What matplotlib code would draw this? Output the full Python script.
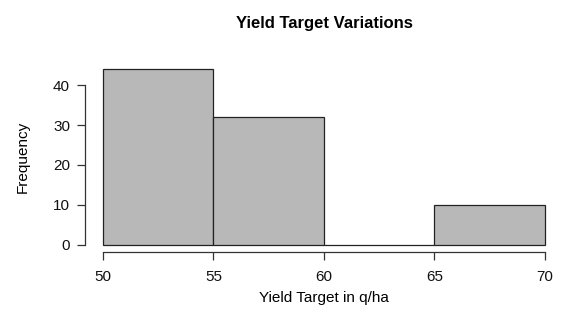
#!/usr/bin/env python3
"""Histogram of yield targets, drawn in base-R style."""

import matplotlib.pyplot as plt

plt.rcParams["font.family"] = ["Liberation Sans", "DejaVu Sans"]

BIN_EDGES = [50, 55, 60, 65, 70]
COUNTS = [44, 32, 0, 10]
Y_TICKS = [0, 10, 20, 30, 40]

fig = plt.figure(figsize=(5.61, 3.36), dpi=100)
ax = fig.add_axes([0.152, 0.25, 0.851, 0.5655])

lefts = BIN_EDGES[:-1]
widths = [b - a for a, b in zip(BIN_EDGES[:-1], BIN_EDGES[1:])]
ax.bar(lefts, COUNTS, width=widths, align="edge",
       color="#b8b8b8", edgecolor="#222222", linewidth=0.9)

# R pads the data range by 4% on each side
xr = BIN_EDGES[-1] - BIN_EDGES[0]
ax.set_xlim(BIN_EDGES[0] - 0.04 * xr, BIN_EDGES[-1] + 0.04 * xr)
yr = max(COUNTS)
ax.set_ylim(-0.04 * yr, yr * 1.04)

for side in ("top", "right"):
    ax.spines[side].set_visible(False)
ax.spines["left"].set_bounds(Y_TICKS[0], Y_TICKS[-1])
ax.spines["bottom"].set_bounds(BIN_EDGES[0], BIN_EDGES[-1])
for side in ("left", "bottom"):
    ax.spines[side].set_color("#333333")
    ax.spines[side].set_linewidth(0.9)

ax.set_xticks(BIN_EDGES)
ax.set_yticks(Y_TICKS)
ax.tick_params(direction="out", length=6, width=0.9, color="#333333",
               labelsize=11, labelcolor="#111111")
ax.tick_params(axis="x", pad=7)
ax.tick_params(axis="y", pad=5)

ax.set_title("Yield Target Variations", fontsize=12, fontweight="bold",
             pad=0, y=1.18)
ax.set_xlabel("Yield Target in q/ha", fontsize=11, labelpad=5)
ax.set_ylabel("Frequency", fontsize=11, labelpad=17)

fig.savefig("out.png", dpi=100)
